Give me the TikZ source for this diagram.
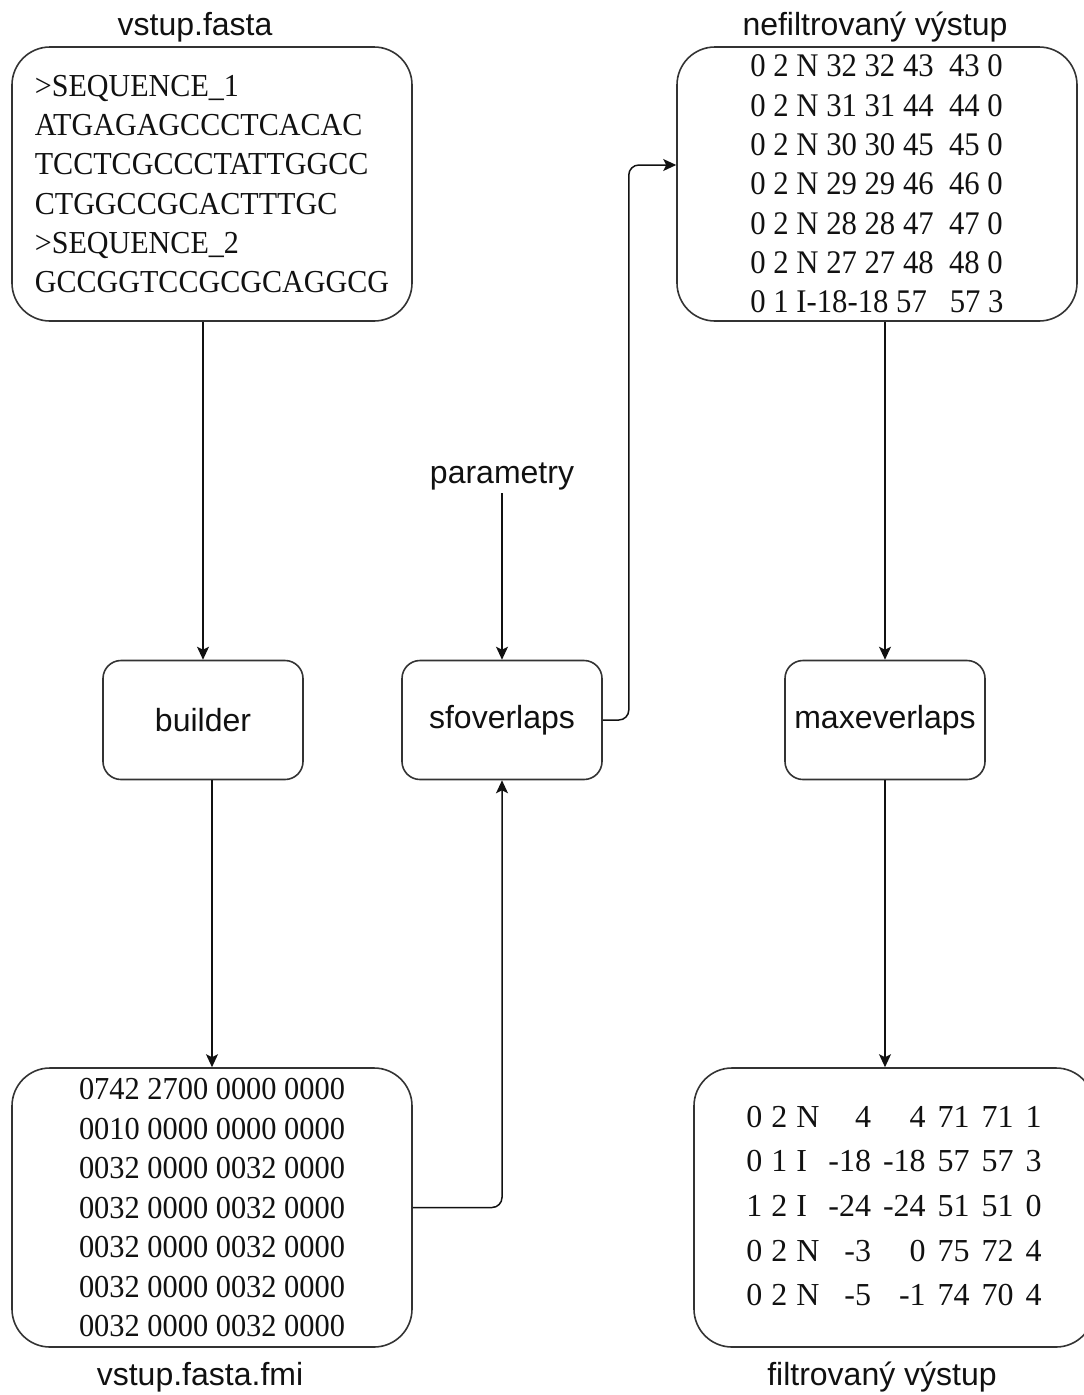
\documentclass[tikz,border=0pt]{standalone}
\usepackage{fontspec}
\setmainfont{Liberation Serif}
\newfontfamily\labfont{Liberation Sans}
\newfontfamily\seqfont[FakeStretch=0.94]{Liberation Serif}
\newfontfamily\dumpfont[FakeStretch=0.93]{Liberation Serif}
\newfontfamily\fmifont[FakeStretch=0.95]{Liberation Serif}
\usepackage{tikz}
\usetikzlibrary{calc,arrows.meta}
\setlength{\tabcolsep}{6pt}
\definecolor{ink}{HTML}{111111}
\definecolor{frame}{HTML}{333333}
\tikzset{
  filebox/.style={draw=frame, line width=1.6pt, rounded corners=38pt, minimum width=400pt, inner sep=0pt, text=ink},
  toolbox/.style={draw=frame, line width=1.6pt, rounded corners=18pt, minimum width=200pt, minimum height=119pt, text=ink, font=\labfont\fontsize{32}{38}\selectfont},
  lab/.style={text=ink, font=\labfont\fontsize{32}{38}\selectfont},
  seq/.style={font=\seqfont\fontsize{32}{39.2}\selectfont, align=left},
  dump/.style={font=\dumpfont\fontsize{33}{39.3}\selectfont, align=left},
  fmidump/.style={font=\fmifont\fontsize{32}{39.5}\selectfont, align=left},
  flow/.style={draw=ink, line width=1.5pt, rounded corners=10pt, -{Stealth[length=13pt,width=12pt,inset=3pt]}}
}

\begin{document}
\begin{tikzpicture}[x=1pt,y=-1pt]
  \useasboundingbox (0,0) rectangle (1084,1395);
  % files
  \node[filebox, minimum height=274pt, seq] (fasta) at (212,184)
    {>SEQUENCE\_1\\ATGAGAGCCCTCACAC\\TCCTCGCCCTATTGGCC\\CTGGCCGCACTTTGC\\>SEQUENCE\_2\\GCCGGTCCGCGCAGGCG};
  \node[lab] (fastalab) at (195,27) {vstup.fasta};
  \node[filebox, minimum height=274pt, dump] (nefiltr) at (877,184)
    {0 2 N 32 32 43\ \ 43 0\\0 2 N 31 31 44\ \ 44 0\\0 2 N 30 30 45\ \ 45 0\\0 2 N 29 29 46\ \ 46 0\\0 2 N 28 28 47\ \ 47 0\\0 2 N 27 27 48\ \ 48 0\\0 1 I-18-18 57\ \ \ 57 3};
  \node[lab] (nefiltrlab) at (875,27) {nefiltrovaný výstup};
  \node[filebox, minimum height=279pt, fmidump] (fmi) at (212,1207.5)
    {0742 2700 0000 0000\\0010 0000 0000 0000\\0032 0000 0032 0000\\0032 0000 0032 0000\\0032 0000 0032 0000\\0032 0000 0032 0000\\0032 0000 0032 0000};
  \node[lab] (fmilab) at (200,1377) {vstup.fasta.fmi};
  \node[filebox, minimum height=279pt, font=\fontsize{32}{44.7}\selectfont] (filtr) at (894,1207.5)
    {\begin{tabular}{@{}r@{\hspace{9pt}}r@{\hspace{9pt}}l@{\hspace{9pt}}rrrrr@{}}
      0&2&N&4&4&71&71&1\\
      0&1&I&-18&-18&57&57&3\\
      1&2&I&-24&-24&51&51&0\\
      0&2&N&-3&0&75&72&4\\
      0&2&N&-5&-1&74&70&4
    \end{tabular}};
  \node[lab] (filtrlab) at (882,1377) {filtrovaný výstup};
  % tools
  \node[toolbox] (builder) at (203,720) {builder};
  \node[toolbox] (sfoverlaps) at (502,720) {sfoverlaps};
  \node[toolbox] (maxeverlaps) at (885,720) {maxeverlaps};
  \node[lab] (parametry) at (502,476) {parametry};
  % arrows
  \draw[flow] (builder.north |- fasta.south) -- (builder.north);
  \draw[flow] (fmi.north |- builder.south) -- (fmi.north);
  \draw[flow] (parametry) -- (sfoverlaps.north);
  \draw[flow] (fmi.east) -| (sfoverlaps.south);
  \draw[flow] (sfoverlaps.east) -- ++(26,0) |- ([yshift=19pt]nefiltr.west);
  \draw[flow] (maxeverlaps.north |- nefiltr.south) -- (maxeverlaps.north);
  \draw[flow] (maxeverlaps.south) -- (maxeverlaps.south |- filtr.north);
\end{tikzpicture}
\end{document}
